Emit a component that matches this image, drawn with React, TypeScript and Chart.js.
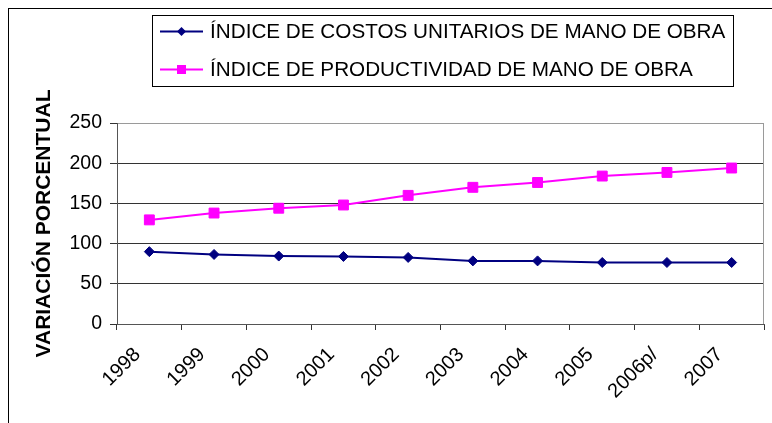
import { useEffect, useRef } from 'react';
import { Chart, registerables } from 'chart.js';

Chart.register(...registerables);

const categories = ['1998', '1999', '2000', '2001', '2002', '2003', '2004', '2005', '2006p/', '2007'];
const laborCostIndex = [90, 86.5, 84.5, 84, 82.8, 78.5, 78.5, 76.5, 76.5, 76.5];
const productivityIndex = [129.5, 138, 144, 148, 160, 170, 176, 184, 188.5, 194];
const seriesLabels = ['ÍNDICE DE COSTOS UNITARIOS DE MANO DE OBRA', 'ÍNDICE DE PRODUCTIVIDAD DE MANO DE OBRA'];
const seriesColors = ['#000080', '#FF00FF'];
const yAxisTitle = 'VARIACIÓN PORCENTUAL';
const yMin = 0;
const yMax = 250;
const yStep = 50;

const FONT = '"Liberation Sans", Arial, sans-serif';

const framePlugin = {
  id: 'frameAndLegend',
  beforeDatasetsDraw(chart: any) {
    const { ctx, chartArea } = chart;
    ctx.save();
    ctx.strokeStyle = '#9a9a9a';
    ctx.lineWidth = 1;
    const x = Math.round(chartArea.right) - 0.5;
    ctx.beginPath();
    ctx.moveTo(x, chartArea.top);
    ctx.lineTo(x, chartArea.bottom);
    ctx.stroke();
    ctx.restore();
  },
  afterDraw(chart: any) {
    const { ctx } = chart;
    ctx.save();
    ctx.strokeStyle = '#000';
    ctx.lineWidth = 1;
    ctx.strokeRect(8.5, 8.5, 900, 600);
    ctx.strokeRect(152.5, 15.5, 581, 71);
    const rows = [31.5, 69.5];
    chart.data.datasets.forEach((ds: any, i: number) => {
      const y = rows[i];
      ctx.strokeStyle = ds.borderColor;
      ctx.lineWidth = 2;
      ctx.beginPath();
      ctx.moveTo(160, y);
      ctx.lineTo(203, y);
      ctx.stroke();
      ctx.fillStyle = ds.backgroundColor;
      const cx = 181.5;
      if (ds.pointStyle === 'rectRot') {
        const r = 4.5;
        ctx.beginPath();
        ctx.moveTo(cx, y - r);
        ctx.lineTo(cx + r, y);
        ctx.lineTo(cx, y + r);
        ctx.lineTo(cx - r, y);
        ctx.closePath();
        ctx.fill();
      } else {
        const h = 4.5;
        ctx.fillRect(cx - h, y - h, 2 * h, 2 * h);
      }
      ctx.fillStyle = '#000';
      ctx.font = `20.7px ${FONT}`;
      ctx.textBaseline = 'middle';
      ctx.textAlign = 'left';
      ctx.fillText(ds.label, 210, y + 1);
    });
    ctx.restore();
  },
};

export default function App() {
  const ref = useRef<HTMLCanvasElement | null>(null);
  useEffect(() => {
    if (!ref.current) return;
    const chart = new Chart(ref.current, {
      type: 'line',
      data: {
        labels: categories,
        datasets: [
          {
            label: seriesLabels[0],
            data: laborCostIndex,
            borderColor: seriesColors[0],
            backgroundColor: seriesColors[0],
            borderWidth: 2,
            pointStyle: 'rectRot',
            pointRadius: 5,
            pointBorderWidth: 1,
            tension: 0,
          },
          {
            label: seriesLabels[1],
            data: productivityIndex,
            borderColor: seriesColors[1],
            backgroundColor: seriesColors[1],
            borderWidth: 2,
            pointStyle: 'rect',
            pointRadius: 7,
            pointBorderWidth: 1,
            tension: 0,
          },
        ],
      },
      options: {
        responsive: false,
        animation: false,
        layout: { padding: { left: 0, top: 123, right: 2, bottom: 0 } },
        plugins: {
          legend: { display: false },
          tooltip: { enabled: false },
        },
        scales: {
          x: {
            type: 'category',
            offset: true,
            grid: { offset: true, drawOnChartArea: false, drawTicks: true, tickLength: 6, color: '#333' },
            border: { color: '#555', width: 1 },
            ticks: {
              minRotation: 45,
              maxRotation: 45,
              autoSkip: false,
              color: '#000',
              padding: 13,
              labelOffset: -12,
              font: { family: FONT, size: 20 },
            },
            afterFit: (s: any) => {
              s.height = 99;
            },
          },
          y: {
            min: yMin,
            max: yMax,
            ticks: {
              stepSize: yStep,
              color: '#000',
              padding: 8,
              font: { family: FONT, size: 19.5 },
            },
            grid: {
              color: (c: any) => (c.tick && c.tick.value === yMax ? '#9a9a9a' : '#333'),
              tickColor: '#333',
              tickLength: 7,
            },
            border: { color: '#555', width: 1 },
            title: {
              display: true,
              text: yAxisTitle,
              color: '#000',
              font: { family: FONT, size: 21, weight: 'bold' },
              padding: { top: 32, bottom: 0 },
            },
            afterFit: (s: any) => {
              s.width = 117;
            },
          },
        },
      },
      plugins: [framePlugin],
    } as any);
    return () => chart.destroy();
  }, []);
  return (
    <div style={{ position: 'fixed', left: 0, top: 0, width: 772, height: 423, background: '#fff' }}>
      <canvas ref={ref} width={772} height={423} style={{ display: 'block' }} />
    </div>
  );
}
